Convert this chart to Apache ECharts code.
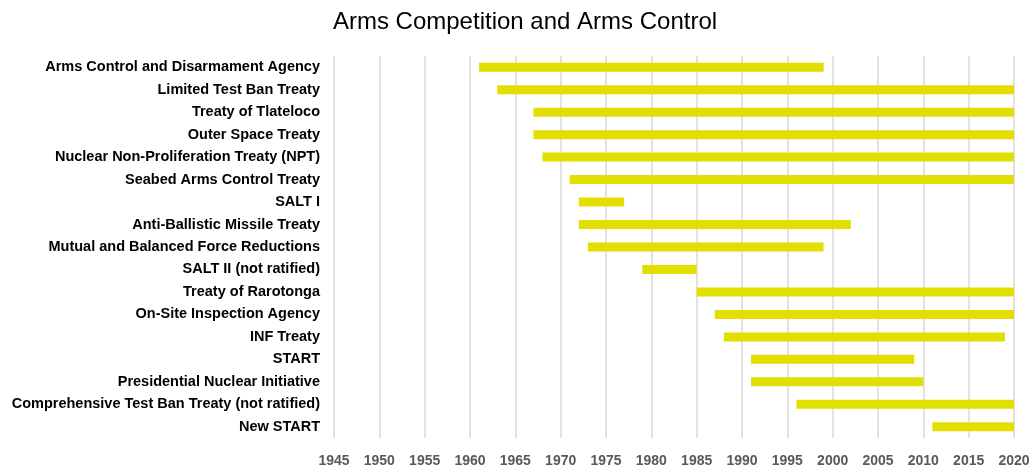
<!DOCTYPE html>
<html>
<head>
<meta charset="utf-8">
<script src="https://cdn.jsdelivr.net/npm/echarts@6/dist/echarts.min.js"></script>
<style>
  html, body { margin: 0; padding: 0; background: #fff; }
  #chart { width: 1035px; height: 466px; }
</style>
</head>
<body>
<div id="chart"></div>
<script>
const treaties = [
  "Arms Control and Disarmament Agency",
  "Limited Test Ban Treaty",
  "Treaty of Tlateloco",
  "Outer Space Treaty",
  "Nuclear Non-Proliferation Treaty (NPT)",
  "Seabed Arms Control Treaty",
  "SALT I",
  "Anti-Ballistic Missile Treaty",
  "Mutual and Balanced Force Reductions",
  "SALT II (not ratified)",
  "Treaty of Rarotonga",
  "On-Site Inspection Agency",
  "INF Treaty",
  "START",
  "Presidential Nuclear Initiative",
  "Comprehensive Test Ban Treaty (not ratified)",
  "New START"
];
const startYears = [1961, 1963, 1967, 1967, 1968, 1971, 1972, 1972, 1973, 1979, 1985, 1987, 1988, 1991, 1991, 1996, 2011];
const endYears   = [1999, 2020, 2020, 2020, 2020, 2020, 1977, 2002, 1999, 1985, 2020, 2020, 2019, 2009, 2010, 2020, 2020];

const durations = endYears.map((e, i) => e - startYears[i]);

const chart = echarts.init(document.getElementById("chart"));
chart.setOption({
  animation: false,
  title: {
    text: "Arms Competition and Arms Control",
    left: 520,
    textAlign: "center",
    top: 5,
    textStyle: { fontFamily: "Liberation Sans", fontSize: 24, fontWeight: "normal", color: "#000" }
  },
  grid: { left: 334, right: 21, top: 56, bottom: 28, outerBoundsMode: "none" },
  xAxis: {
    type: "value",
    min: 1945,
    max: 2020,
    interval: 5,
    axisLine: { show: false },
    axisTick: { show: false },
    splitLine: { lineStyle: { color: "#d9d9d9", width: 1.5 } },
    axisLabel: {
      color: "#595959", fontFamily: "Liberation Sans", fontWeight: "bold", fontSize: 14, margin: 16,
      formatter: v => String(v)
    }
  },
  yAxis: {
    type: "category",
    data: treaties,
    inverse: true,
    axisLine: { show: false },
    axisTick: { show: false },
    axisLabel: { color: "#000", fontFamily: "Liberation Sans", fontWeight: "bold", fontSize: 14.5, margin: 14 }
  },
  series: [
    {
      type: "bar",
      stack: "span",
      data: startYears,
      itemStyle: { color: "transparent" },
      barWidth: 9,
      silent: true
    },
    {
      type: "bar",
      stack: "span",
      data: durations,
      itemStyle: { color: "#e2df00" },
      barWidth: 9
    }
  ]
});
</script>
</body>
</html>
